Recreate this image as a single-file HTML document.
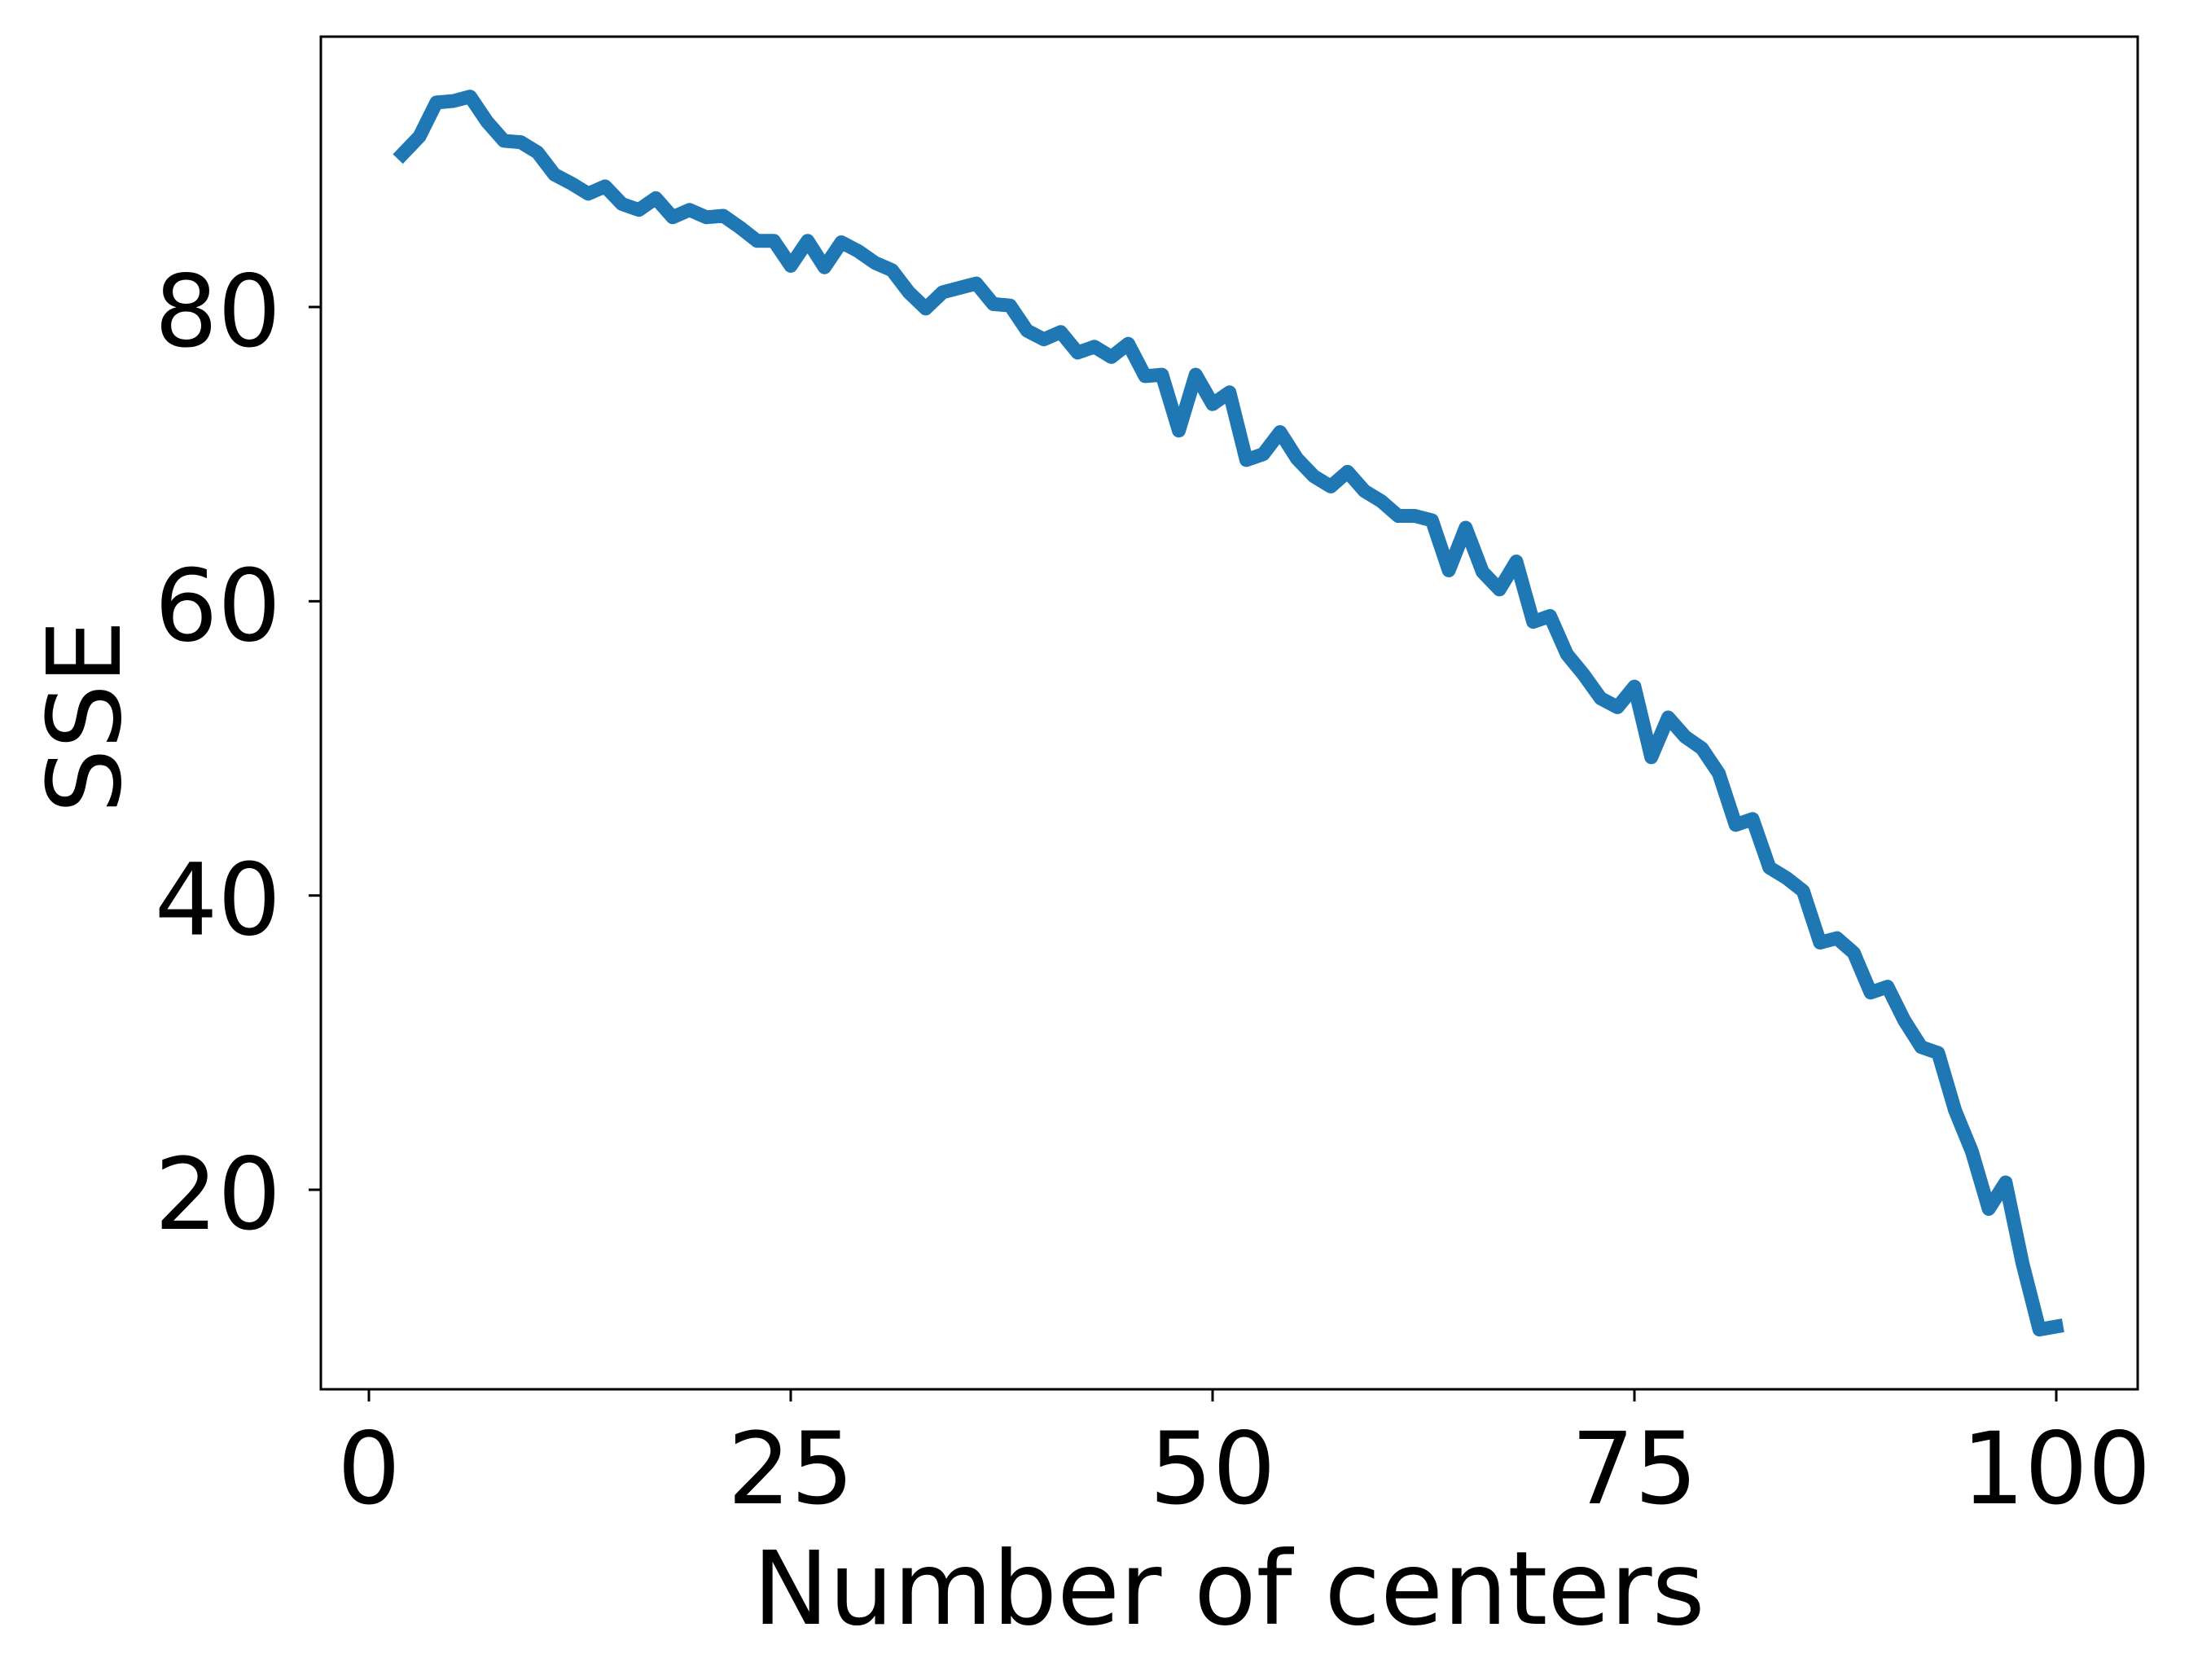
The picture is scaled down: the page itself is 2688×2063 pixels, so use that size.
<!DOCTYPE html>
<html><head><meta charset="utf-8"><style>html,body{margin:0;padding:0;background:#fff}svg{display:block}</style></head>
<body>
<svg id="chart" width="2688" height="2063" xmlns="http://www.w3.org/2000/svg" font-family="'DejaVu Sans','Liberation Sans',sans-serif"></svg>
<script>
const xValues = [2,3,4,5,6,7,8,9,10,11,12,13,14,15,16,17,18,19,20,21,22,23,24,25,26,27,28,29,30,31,32,33,34,35,36,37,38,39,40,41,42,43,44,45,46,47,48,49,50,51,52,53,54,55,56,57,58,59,60,61,62,63,64,65,66,67,68,69,70,71,72,73,74,75,76,77,78,79,80,81,82,83,84,85,86,87,88,89,90,91,92,93,94,95,96,97,98,99,100];
const sseValues = [90.4,91.6,93.9,94.0,94.3,92.6,91.3,91.2,90.5,89.0,88.4,87.7,88.2,87.0,86.6,87.4,86.1,86.6,86.1,86.2,85.4,84.5,84.5,82.8,84.5,82.7,84.4,83.8,83.0,82.5,81.0,79.9,81.0,81.3,81.6,80.2,80.1,78.4,77.8,78.3,76.9,77.3,76.6,77.5,75.3,75.4,71.6,75.4,73.4,74.2,69.6,70.0,71.5,69.7,68.5,67.8,68.8,67.5,66.8,65.8,65.8,65.5,62.1,65.0,62.0,60.8,62.7,58.6,59.0,56.4,55.0,53.4,52.8,54.2,49.4,52.1,50.8,50.0,48.3,44.8,45.2,41.9,41.2,40.3,36.8,37.1,36.1,33.4,33.8,31.5,29.7,29.3,25.4,22.6,18.7,20.5,15.0,10.5,10.7];
const xTicks = [0,25,50,75,100];
const yTicks = [20,40,60,80];

const svg = document.getElementById('chart');
const NS = 'http://www.w3.org/2000/svg';
const L=394,R=2625,T=45,B=1706;
const sx = v => 453 + (v-0)*(2525-453)/100;
const sy = v => 377 + (80-v)*(1461-377)/60;
function mk(tag, attrs, parent){const e=document.createElementNS(NS,tag);for(const k in attrs)e.setAttribute(k,attrs[k]);(parent||svg).appendChild(e);return e;}

const line = mk('polyline',{points:xValues.map((x,i)=>sx(x)+','+sy(sseValues[i])).join(' '),fill:'none',stroke:'#1f77b4','stroke-width':17,'stroke-linejoin':'round','stroke-linecap':'square'});



const frame = mk('rect',{x:L,y:T,width:R-L,height:B-T,fill:'none',stroke:'#000','stroke-width':3});



xTicks.forEach(t=>{
  const g=mk('g',{});
  
  
  mk('line',{x1:sx(t),x2:sx(t),y1:B,y2:B+15,stroke:'#000','stroke-width':3},g);
  const tx=mk('text',{x:sx(t),y:1846,'font-size':122,'text-anchor':'middle',fill:'#000'},g);
  tx.textContent=t;
});
yTicks.forEach(t=>{
  const g=mk('g',{});
  
  
  mk('line',{x1:L,x2:L-15,y1:sy(t),y2:sy(t),stroke:'#000','stroke-width':3},g);
  const tx=mk('text',{x:345,y:sy(t)+48,'font-size':122,'text-anchor':'end',fill:'#000'},g);
  tx.textContent=t;
});
const xl=mk('text',{x:1509,y:1994,'font-size':125,'text-anchor':'middle',fill:'#000'});
xl.textContent='Number of centers';


const yl=mk('text',{x:0,y:0,'font-size':125,'text-anchor':'middle',fill:'#000',transform:'translate(147,880) rotate(-90)'});
yl.textContent='SSE';


</script>
</body></html>
